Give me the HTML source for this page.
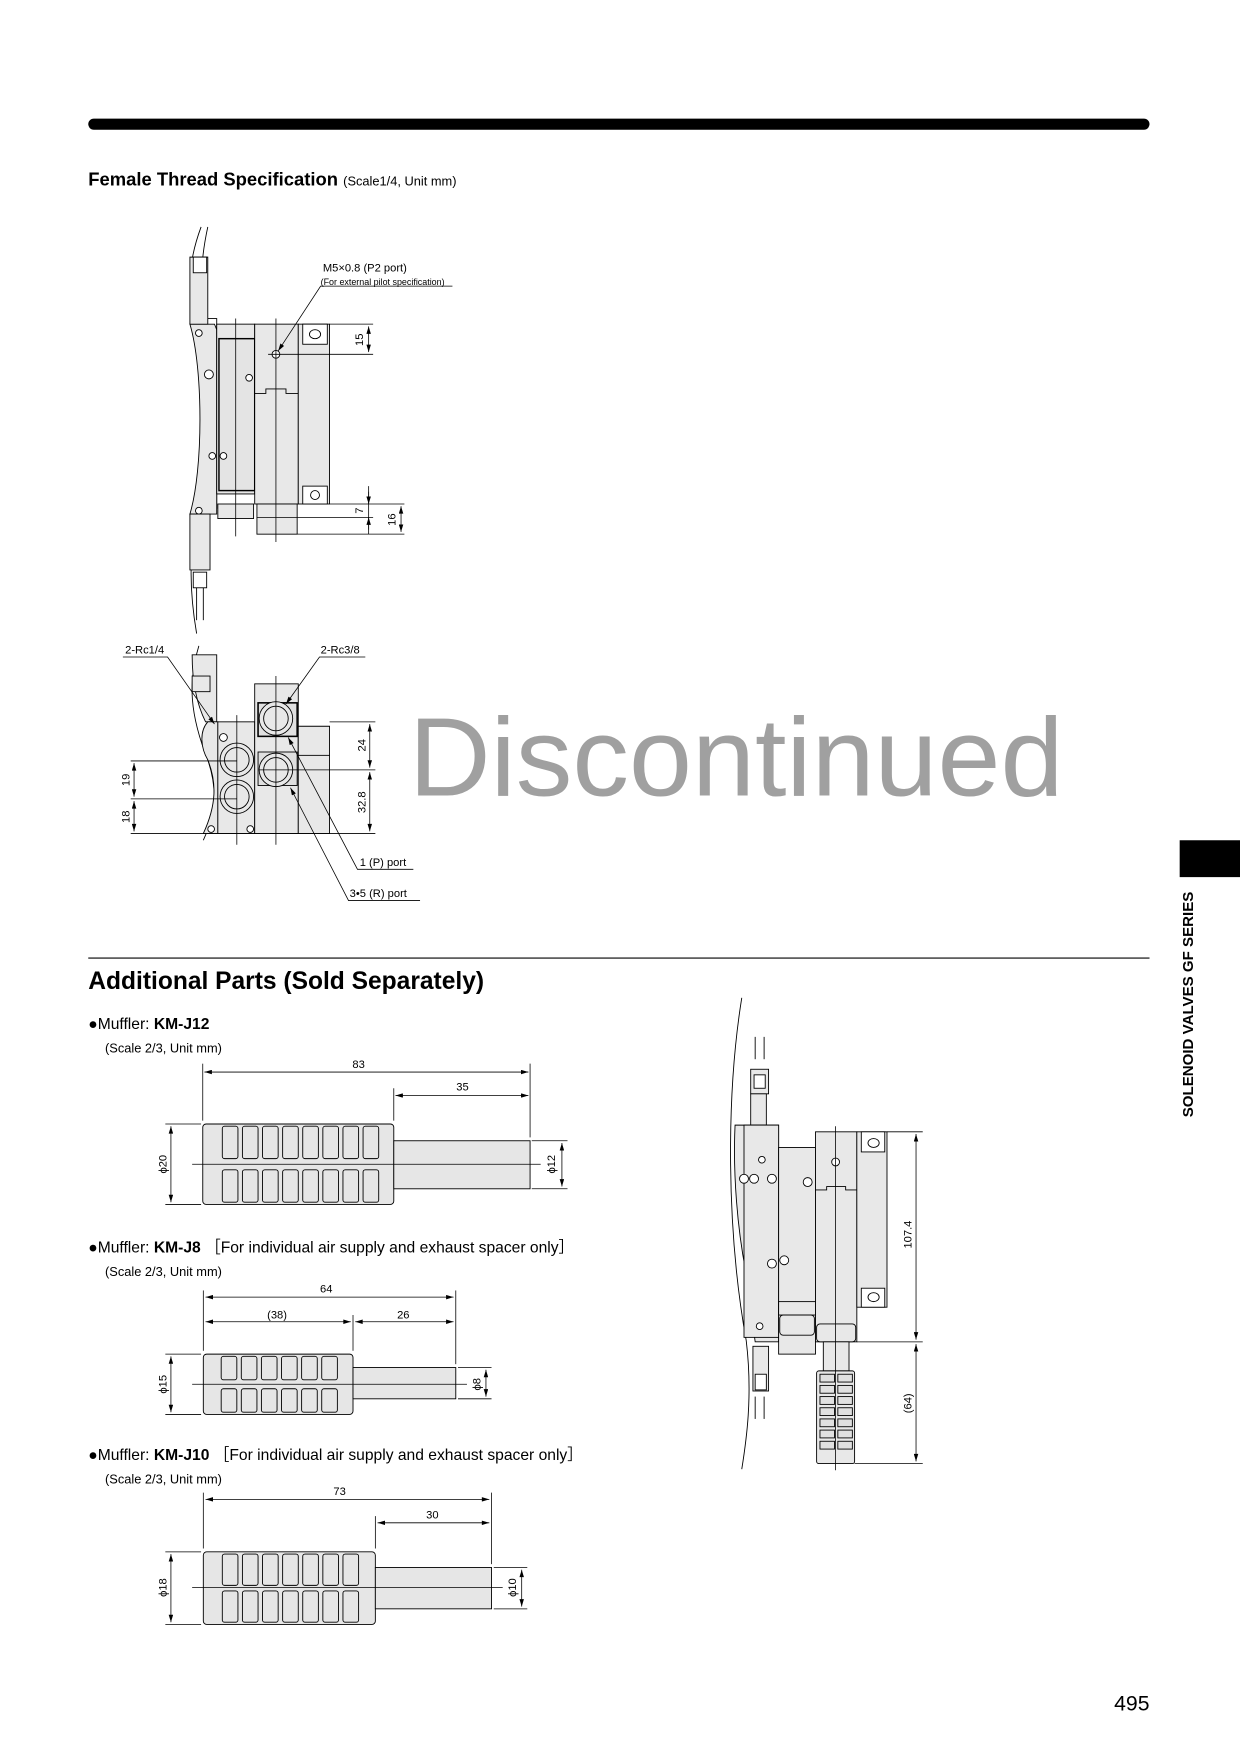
<!DOCTYPE html>
<html><head><meta charset="utf-8"><style>
html,body{margin:0;padding:0;background:#fff;}
svg{display:block;}
text{font-family:"Liberation Sans",Arial,sans-serif;fill:#000;}
</style></head><body>
<svg width="1240" height="1752" viewBox="0 0 1110 1568" xmlns="http://www.w3.org/2000/svg">
<defs>
<marker id="a" viewBox="0 0 10 6" refX="10" refY="3" markerWidth="7" markerHeight="4" orient="auto-start-reverse" markerUnits="userSpaceOnUse"><path d="M0,0L10,3L0,6z" fill="#000"/></marker>
</defs>
<rect x="79" y="106" width="950" height="10" rx="5" fill="#000"/>
<text x="79" y="166" font-size="16.5" font-weight="bold">Female Thread Specification <tspan font-size="11.5" font-weight="normal">(Scale1/4, Unit mm)</tspan></text>

<g stroke="#000" stroke-width="0.8" fill="#e8e8e8">
<path d="M180,203 C170,230 168,250 172,285 L194,285 L194,455 L180,460 C170,480 168,520 176,567" fill="none"/>
<path d="M186,203 C178,240 180,260 184,285" fill="none"/>
<path d="M170,290 L192,290 L194,295 L194,460 L170,460 C182,420 182,330 170,290z"/>
<path d="M170,230 L186,230 L186,290 L170,290z"/>
<path d="M170,460 L188,460 L188,510 L170,510z"/>
<rect x="173" y="230" width="12" height="14" fill="#fff"/>
<rect x="173" y="512" width="12" height="14" fill="#fff"/>
<line x1="176" y1="526" x2="176" y2="555"/><line x1="182" y1="526" x2="182" y2="555"/>
<rect x="194" y="290" width="34" height="152"/>
<rect x="196" y="303" width="32" height="136" fill="#e4e4e4" stroke-width="1.3"/>
<rect x="228" y="290" width="39" height="161"/>
<rect x="267" y="290" width="28" height="161"/>
<rect x="271" y="290" width="22" height="18" fill="#fff"/>
<rect x="271" y="435" width="22" height="16" fill="#fff"/>
<ellipse cx="282" cy="299" rx="5" ry="4" fill="none"/>
<ellipse cx="282" cy="443" rx="4" ry="4" fill="none"/>
<rect x="195" y="451" width="32" height="13"/>
<rect x="230" y="451" width="36" height="27"/>
<path d="M228,352 L238,352 L238,348 L256,348 L256,352 L267,352" fill="none"/>
<circle cx="247" cy="317" r="3.5" fill="#fff"/>
<circle cx="187" cy="335" r="4" fill="#fff"/><circle cx="223" cy="338" r="3" fill="#fff"/>
<circle cx="190" cy="408" r="3" fill="#fff"/><circle cx="200" cy="408" r="3" fill="#fff"/>
<circle cx="178" cy="298" r="3" fill="#fff"/><circle cx="178" cy="457" r="3" fill="#fff"/>
</g>
<g stroke="#000" stroke-width="0.7" fill="none">
<line x1="211" y1="285" x2="211" y2="480"/><line x1="247" y1="285" x2="247" y2="485"/>
<line x1="295" y1="290" x2="334" y2="290"/><line x1="240" y1="317" x2="334" y2="317"/>
<line x1="330" y1="292" x2="330" y2="315" marker-start="url(#a)" marker-end="url(#a)"/>
<line x1="295" y1="451" x2="362" y2="451"/><line x1="230" y1="463" x2="334" y2="463"/><line x1="266" y1="478" x2="362" y2="478"/>
<line x1="330" y1="435" x2="330" y2="478"/>
<line x1="330" y1="440" x2="330" y2="451" marker-end="url(#a)"/>
<line x1="330" y1="474" x2="330" y2="463" marker-end="url(#a)"/>
<line x1="359" y1="453" x2="359" y2="476" marker-start="url(#a)" marker-end="url(#a)"/>
<path d="M249,314 L287,256 L405,256" marker-start="url(#a)"/>
</g>
<text x="289" y="243" font-size="10">M5×0.8 (P2 port)</text>
<text x="287" y="255" font-size="8">(For external pilot specification)</text>
<text transform="translate(325,304) rotate(-90)" font-size="10" text-anchor="middle">15</text>
<text transform="translate(325,457) rotate(-90)" font-size="10" text-anchor="middle">7</text>
<text transform="translate(354,465) rotate(-90)" font-size="10" text-anchor="middle">16</text>

<g stroke="#000" stroke-width="0.8" fill="#e8e8e8">
<path d="M178,578 C168,610 170,640 186,680 C196,710 192,730 182,752" fill="none"/>
<path d="M172,586 L194,586 L194,646 L184,646 C176,630 172,610 172,586z"/>
<rect x="172" y="605" width="16" height="14"/>
<path d="M186,646 L195,646 L195,746 L182,746 C194,720 194,700 186,680 C180,670 178,655 186,646z"/>
<rect x="195" y="646" width="33" height="100"/>
<rect x="228" y="612" width="39" height="134"/>
<rect x="267" y="650" width="28" height="96"/>
<rect x="267" y="650" width="28" height="26" fill="#e8e8e8"/>
<rect x="231" y="629" width="35" height="30" fill="#e0e0e0" stroke-width="1.4"/>
<rect x="231" y="673" width="35" height="30" fill="#e0e0e0"/>
<circle cx="247" cy="643" r="15" fill="#e8e8e8"/><circle cx="247" cy="643" r="11" fill="#e8e8e8"/>
<circle cx="247" cy="689" r="15" fill="#e8e8e8"/><circle cx="247" cy="689" r="11" fill="#e8e8e8"/>
<circle cx="212" cy="680" r="15"/><circle cx="212" cy="680" r="11"/>
<circle cx="212" cy="713" r="15"/><circle cx="212" cy="713" r="11"/>
<circle cx="200" cy="660" r="3.5" fill="#fff"/><circle cx="189" cy="742" r="3" fill="#fff"/><circle cx="224" cy="742" r="3" fill="#fff"/>
</g>
<g stroke="#000" stroke-width="0.7" fill="none">
<line x1="212" y1="640" x2="212" y2="756"/><line x1="247" y1="605" x2="247" y2="756"/>
<line x1="295" y1="646" x2="336" y2="646"/><line x1="232" y1="689" x2="336" y2="689"/><line x1="117" y1="746" x2="336" y2="746"/>
<line x1="117" y1="681" x2="212" y2="681"/><line x1="117" y1="715" x2="212" y2="715"/>
<line x1="331" y1="648" x2="331" y2="687" marker-start="url(#a)" marker-end="url(#a)"/>
<line x1="331" y1="691" x2="331" y2="744" marker-start="url(#a)" marker-end="url(#a)"/>
<line x1="120" y1="683" x2="120" y2="713" marker-start="url(#a)" marker-end="url(#a)"/>
<line x1="120" y1="717" x2="120" y2="744" marker-start="url(#a)" marker-end="url(#a)"/>
<path d="M110,588 L150,588 L192,648" marker-end="url(#a)"/>
<path d="M327,588 L286,588 L256,630" marker-end="url(#a)"/>
<path d="M370,778 L320,778 L258,660" marker-end="url(#a)"/>
<path d="M376,806 L312,806 L260,705" marker-end="url(#a)"/>
</g>
<text x="112" y="585" font-size="10">2-Rc1/4</text>
<text x="287" y="585" font-size="10">2-Rc3/8</text>
<text x="322" y="775" font-size="10">1 (P) port</text>
<text x="313" y="803" font-size="10">3•5 (R) port</text>
<text transform="translate(327,667) rotate(-90)" font-size="10" text-anchor="middle">24</text>
<text transform="translate(327,718) rotate(-90)" font-size="10" text-anchor="middle">32.8</text>
<text transform="translate(116,698) rotate(-90)" font-size="10" text-anchor="middle">19</text>
<text transform="translate(116,731) rotate(-90)" font-size="10" text-anchor="middle">18</text>

<text x="366" y="712" font-size="100" style="fill:#a0a0a0" textLength="586" lengthAdjust="spacingAndGlyphs">Discontinued</text>

<line x1="79" y1="857.5" x2="1029" y2="857.5" stroke="#000" stroke-width="1"/>
<text x="79" y="885" font-size="22" font-weight="bold">Additional Parts (Sold Separately)</text>

<rect x="1056" y="752" width="54" height="33" fill="#000"/>
<text transform="translate(1068,899) rotate(-90)" font-size="13.5" font-weight="bold" text-anchor="middle">SOLENOID VALVES GF SERIES</text>

<text x="79" y="921" font-size="14">●Muffler: <tspan font-weight="bold">KM-J12</tspan></text>
<text x="94" y="942" font-size="11.5">(Scale 2/3, Unit mm)</text>
<g stroke="#000" stroke-width="0.8" fill="#e6e6e6">
<rect x="181.5" y="1006" width="171" height="72" rx="3"/>
<rect x="352.5" y="1021" width="122" height="43"/>
<rect x="199" y="1008" width="14" height="29" rx="2"/><rect x="217" y="1008" width="14" height="29" rx="2"/><rect x="235" y="1008" width="14" height="29" rx="2"/><rect x="253" y="1008" width="14" height="29" rx="2"/><rect x="271" y="1008" width="14" height="29" rx="2"/><rect x="289" y="1008" width="14" height="29" rx="2"/><rect x="307" y="1008" width="14" height="29" rx="2"/><rect x="325" y="1008" width="14" height="29" rx="2"/>
<rect x="199" y="1047" width="14" height="29" rx="2"/><rect x="217" y="1047" width="14" height="29" rx="2"/><rect x="235" y="1047" width="14" height="29" rx="2"/><rect x="253" y="1047" width="14" height="29" rx="2"/><rect x="271" y="1047" width="14" height="29" rx="2"/><rect x="289" y="1047" width="14" height="29" rx="2"/><rect x="307" y="1047" width="14" height="29" rx="2"/><rect x="325" y="1047" width="14" height="29" rx="2"/>
</g>
<g stroke="#000" stroke-width="0.7" fill="none">
<line x1="172" y1="1042" x2="484" y2="1042"/>
<line x1="181.5" y1="952" x2="181.5" y2="1003"/><line x1="474.5" y1="952" x2="474.5" y2="1018"/><line x1="352.5" y1="974" x2="352.5" y2="1003"/>
<line x1="183" y1="959.5" x2="473" y2="959.5" marker-start="url(#a)" marker-end="url(#a)"/>
<line x1="354" y1="980.5" x2="473" y2="980.5" marker-start="url(#a)" marker-end="url(#a)"/>
<line x1="148" y1="1006" x2="180" y2="1006"/><line x1="148" y1="1078" x2="180" y2="1078"/>
<line x1="153" y1="1008" x2="153" y2="1076" marker-start="url(#a)" marker-end="url(#a)"/>
<line x1="476" y1="1021" x2="508" y2="1021"/><line x1="476" y1="1064" x2="508" y2="1064"/>
<line x1="503" y1="1023" x2="503" y2="1062" marker-start="url(#a)" marker-end="url(#a)"/>
</g>
<text x="321" y="956" font-size="10" text-anchor="middle">83</text>
<text x="414" y="976" font-size="10" text-anchor="middle">35</text>
<text transform="translate(149,1042) rotate(-90)" font-size="10" text-anchor="middle">ϕ20</text>
<text transform="translate(497,1042) rotate(-90)" font-size="10" text-anchor="middle">ϕ12</text>

<text x="79" y="1121" font-size="14">●Muffler: <tspan font-weight="bold">KM-J8</tspan> ［For individual air supply and exhaust spacer only］</text>
<text x="94" y="1142" font-size="11.5">(Scale 2/3, Unit mm)</text>
<g stroke="#000" stroke-width="0.8" fill="#e6e6e6">
<rect x="182" y="1212" width="134" height="54" rx="3"/>
<rect x="316" y="1224" width="92" height="28"/>
<rect x="198" y="1214" width="14" height="21" rx="2"/><rect x="216" y="1214" width="14" height="21" rx="2"/><rect x="234" y="1214" width="14" height="21" rx="2"/><rect x="252" y="1214" width="14" height="21" rx="2"/><rect x="270" y="1214" width="14" height="21" rx="2"/><rect x="288" y="1214" width="14" height="21" rx="2"/>
<rect x="198" y="1243" width="14" height="21" rx="2"/><rect x="216" y="1243" width="14" height="21" rx="2"/><rect x="234" y="1243" width="14" height="21" rx="2"/><rect x="252" y="1243" width="14" height="21" rx="2"/><rect x="270" y="1243" width="14" height="21" rx="2"/><rect x="288" y="1243" width="14" height="21" rx="2"/>
</g>
<g stroke="#000" stroke-width="0.7" fill="none">
<line x1="172" y1="1239" x2="418" y2="1239"/>
<line x1="182" y1="1155" x2="182" y2="1209"/><line x1="408" y1="1155" x2="408" y2="1221"/><line x1="316" y1="1177" x2="316" y2="1209"/>
<line x1="184" y1="1161" x2="406" y2="1161" marker-start="url(#a)" marker-end="url(#a)"/>
<line x1="184" y1="1183" x2="314" y2="1183" marker-start="url(#a)" marker-end="url(#a)"/>
<line x1="318" y1="1183" x2="406" y2="1183" marker-start="url(#a)" marker-end="url(#a)"/>
<line x1="148" y1="1212" x2="180" y2="1212"/><line x1="148" y1="1266" x2="180" y2="1266"/>
<line x1="153" y1="1214" x2="153" y2="1264" marker-start="url(#a)" marker-end="url(#a)"/>
<line x1="410" y1="1224" x2="440" y2="1224"/><line x1="410" y1="1252" x2="440" y2="1252"/>
<line x1="435" y1="1226" x2="435" y2="1250" marker-start="url(#a)" marker-end="url(#a)"/>
</g>
<text x="292" y="1157" font-size="10" text-anchor="middle">64</text>
<text x="248" y="1180" font-size="10" text-anchor="middle">(38)</text>
<text x="361" y="1180" font-size="10" text-anchor="middle">26</text>
<text transform="translate(149,1239) rotate(-90)" font-size="10" text-anchor="middle">ϕ15</text>
<text transform="translate(430,1239) rotate(-90)" font-size="10" text-anchor="middle">ϕ8</text>

<text x="79" y="1307" font-size="14">●Muffler: <tspan font-weight="bold">KM-J10</tspan> ［For individual air supply and exhaust spacer only］</text>
<text x="94" y="1328" font-size="11.5">(Scale 2/3, Unit mm)</text>
<g stroke="#000" stroke-width="0.8" fill="#e6e6e6">
<rect x="182" y="1389" width="154" height="65" rx="3"/>
<rect x="336" y="1403" width="104" height="37"/>
<rect x="199" y="1391" width="14" height="28" rx="2"/><rect x="217" y="1391" width="14" height="28" rx="2"/><rect x="235" y="1391" width="14" height="28" rx="2"/><rect x="253" y="1391" width="14" height="28" rx="2"/><rect x="271" y="1391" width="14" height="28" rx="2"/><rect x="289" y="1391" width="14" height="28" rx="2"/><rect x="307" y="1391" width="14" height="28" rx="2"/>
<rect x="199" y="1424" width="14" height="28" rx="2"/><rect x="217" y="1424" width="14" height="28" rx="2"/><rect x="235" y="1424" width="14" height="28" rx="2"/><rect x="253" y="1424" width="14" height="28" rx="2"/><rect x="271" y="1424" width="14" height="28" rx="2"/><rect x="289" y="1424" width="14" height="28" rx="2"/><rect x="307" y="1424" width="14" height="28" rx="2"/>
</g>
<g stroke="#000" stroke-width="0.7" fill="none">
<line x1="172" y1="1421" x2="450" y2="1421"/>
<line x1="182" y1="1336" x2="182" y2="1386"/><line x1="440" y1="1336" x2="440" y2="1400"/><line x1="336" y1="1357" x2="336" y2="1386"/>
<line x1="184" y1="1342" x2="438" y2="1342" marker-start="url(#a)" marker-end="url(#a)"/>
<line x1="338" y1="1363" x2="438" y2="1363" marker-start="url(#a)" marker-end="url(#a)"/>
<line x1="148" y1="1389" x2="180" y2="1389"/><line x1="148" y1="1454" x2="180" y2="1454"/>
<line x1="153" y1="1391" x2="153" y2="1452" marker-start="url(#a)" marker-end="url(#a)"/>
<line x1="442" y1="1403" x2="472" y2="1403"/><line x1="442" y1="1440" x2="472" y2="1440"/>
<line x1="467" y1="1405" x2="467" y2="1438" marker-start="url(#a)" marker-end="url(#a)"/>
</g>
<text x="304" y="1338" font-size="10" text-anchor="middle">73</text>
<text x="387" y="1359" font-size="10" text-anchor="middle">30</text>
<text transform="translate(149,1421) rotate(-90)" font-size="10" text-anchor="middle">ϕ18</text>
<text transform="translate(462,1421) rotate(-90)" font-size="10" text-anchor="middle">ϕ10</text>

<g stroke="#000" stroke-width="0.8" fill="#e8e8e8">
<path d="M664,893 C650,980 650,1100 668,1200 C674,1250 668,1290 664,1315" fill="none"/>
<line x1="676" y1="928" x2="676" y2="948"/><line x1="684" y1="928" x2="684" y2="948"/>
<rect x="672" y="957" width="16" height="22"/><rect x="675" y="962" width="10" height="12" fill="#fff"/>
<rect x="672" y="979" width="14" height="28"/>
<path d="M658,1007 L697,1007 L697,1201 L676,1201 L668,1140 C660,1100 656,1050 658,1007z"/>
<rect x="666" y="1007" width="31" height="190"/>
<rect x="697" y="1027" width="33" height="185"/>
<rect x="730" y="1013" width="37" height="188"/>
<rect x="767" y="1013" width="27" height="157"/>
<rect x="771" y="1013" width="21" height="18" fill="#fff"/><rect x="771" y="1153" width="21" height="17" fill="#fff"/>
<ellipse cx="782" cy="1023" rx="5" ry="4" fill="none"/><ellipse cx="782" cy="1161" rx="5" ry="4" fill="none"/>
<rect x="697" y="1165" width="33" height="12"/>
<rect x="698" y="1177" width="31" height="18" rx="3"/>
<rect x="731" y="1185" width="35" height="16" rx="3"/>
<rect x="737" y="1201" width="23" height="26"/>
<rect x="731" y="1227" width="34" height="83" rx="2"/>
<path d="M730,1065 L740,1065 L740,1062 L757,1062 L757,1065 L767,1065" fill="none"/>
<rect x="674" y="1205" width="14" height="40"/><rect x="676" y="1230" width="10" height="14" fill="#fff"/>
<line x1="676" y1="1250" x2="676" y2="1270"/><line x1="684" y1="1250" x2="684" y2="1270"/>
<circle cx="748" cy="1040" r="3.5" fill="#fff"/>
<circle cx="682" cy="1038" r="3" fill="#fff"/>
<circle cx="666" cy="1055" r="4" fill="#fff"/><circle cx="675" cy="1055" r="4" fill="#fff"/><circle cx="691" cy="1055" r="4" fill="#fff"/>
<circle cx="723" cy="1058" r="4" fill="#fff"/>
<circle cx="691" cy="1131" r="4" fill="#fff"/><circle cx="702" cy="1128" r="4" fill="#fff"/>
<circle cx="680" cy="1187" r="3" fill="#fff"/>
<g fill="#e0e0e0">
<rect x="734" y="1230" width="13" height="7"/><rect x="750" y="1230" width="13" height="7"/>
<rect x="734" y="1240" width="13" height="7"/><rect x="750" y="1240" width="13" height="7"/>
<rect x="734" y="1250" width="13" height="7"/><rect x="750" y="1250" width="13" height="7"/>
<rect x="734" y="1260" width="13" height="7"/><rect x="750" y="1260" width="13" height="7"/>
<rect x="734" y="1270" width="13" height="7"/><rect x="750" y="1270" width="13" height="7"/>
<rect x="734" y="1280" width="13" height="7"/><rect x="750" y="1280" width="13" height="7"/>
<rect x="734" y="1290" width="13" height="7"/><rect x="750" y="1290" width="13" height="7"/>
</g>
</g>
<g stroke="#000" stroke-width="0.7" fill="none">
<line x1="748" y1="1008" x2="748" y2="1316"/>
<line x1="794" y1="1013" x2="826" y2="1013"/><line x1="767" y1="1201" x2="826" y2="1201"/><line x1="765" y1="1310" x2="826" y2="1310"/>
<line x1="820" y1="1015" x2="820" y2="1199" marker-start="url(#a)" marker-end="url(#a)"/>
<line x1="820" y1="1203" x2="820" y2="1308" marker-start="url(#a)" marker-end="url(#a)"/>
</g>
<text transform="translate(816,1105) rotate(-90)" font-size="10" text-anchor="middle">107.4</text>
<text transform="translate(816,1256) rotate(-90)" font-size="10" text-anchor="middle">(64)</text>

<text x="1029" y="1531" font-size="19" text-anchor="end">495</text>
</svg>
</body></html>
